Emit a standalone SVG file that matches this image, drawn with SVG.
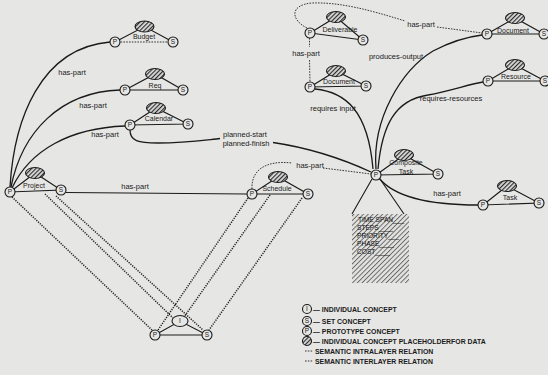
<svg xmlns="http://www.w3.org/2000/svg" width="548" height="375" viewBox="0 0 548 375">
<defs>
<pattern id="hatch" patternUnits="userSpaceOnUse" width="3" height="3" patternTransform="rotate(45)">
<rect width="3" height="3" fill="#dcdcdc"/>
<line x1="0.6" y1="0" x2="0.6" y2="3" stroke="#222" stroke-width="1.1"/>
</pattern>
<pattern id="hatch2" patternUnits="userSpaceOnUse" width="3.4" height="3.4" patternTransform="rotate(45)">
<rect width="3.4" height="3.4" fill="#e2e2e0"/>
<line x1="0.5" y1="0" x2="0.5" y2="3.4" stroke="#444" stroke-width="0.75"/>
</pattern>
<style>
.ln{stroke:#1a1a1a;stroke-width:1.1;fill:none}
.cv{stroke:#1a1a1a;stroke-width:1.3;fill:none}
.dt{stroke:#222;stroke-width:0.9;fill:none;stroke-dasharray:1.6 1.2}
.il{stroke:#222;stroke-width:1.5;fill:none;stroke-dasharray:1.2 1.2}
.c{fill:#e6e6e4;stroke:#1a1a1a;stroke-width:1.1}
.e{fill:url(#hatch);stroke:#1a1a1a;stroke-width:1.1}
.t{font-family:"Liberation Sans",Arial,sans-serif;font-size:7px;fill:#1a1a1a;text-anchor:middle}
.l{font-family:"Liberation Sans",Arial,sans-serif;font-size:7.5px;fill:#1a1a1a;text-anchor:middle}
.k{font-family:"Liberation Sans",Arial,sans-serif;font-size:6.5px;fill:#1a1a1a;text-anchor:middle}
.d{font-family:"Liberation Sans",Arial,sans-serif;font-size:6.6px;fill:#111}
.g{font-family:"Liberation Sans",Arial,sans-serif;font-size:6.9px;font-weight:bold;fill:#1a1a1a}
</style>
</defs>
<rect width="548" height="375" fill="#e6e6e4"/>

<g id="connectors">
<path class="cv" d="M10,187 C14,120 40,48 110,42"/>
<path class="cv" d="M11,187 C22,132 60,92 120,90"/>
<path class="cv" d="M12,188 C30,150 70,128 125,126"/>
<path class="ln" d="M66,192.5 L247,194"/>
<path class="cv" d="M130,130 C130,141 138,143 158,143 C185,143 205,140 220,138.5 M273,142.5 C310,148 345,160 371,172"/>
<path class="dt" d="M252,189 C251,170 266,160 292,163 M323,168 L371,174"/>
<path class="dt" d="M309.5,38 L309.5,47 M309.5,60 L310,82"/>
<path class="dt" d="M307,28 C291,20 289,5 312,3 C340,2 370,10 405,21 M437,27 L482,33"/>
<path class="cv" d="M376,169 C372,118 402,70 433,51 C452,41 466,37 482,35"/>
<path class="cv" d="M378,169 C382,125 395,100 428,95 C450,91 470,84 483,82"/>
<path class="cv" d="M315,89 C345,92 368,110 373,169"/>
<path class="cv" d="M379,178 C395,198 430,205 478,205"/>
<path class="ln" d="M372,179 L352,214 M380,179 L404,214"/>
<path class="il" d="M12,197 L152,330 M45,194 L173,318 M56,196 L203,330 M248,198 L158,330 M270,195 L184,317 M302,198 L209,330"/>
<text class="l" x="72" y="75">has-part</text>
<text class="l" x="93" y="108">has-part</text>
<text class="l" x="105" y="137">has-part</text>
<text class="l" x="135" y="189">has-part</text>
<text class="l" x="245" y="137">planned-start</text>
<text class="l" x="246" y="146">planned-finish</text>
<text class="l" x="310" y="168">has-part</text>
<text class="l" x="306" y="56">has-part</text>
<text class="l" x="421" y="27">has-part</text>
<text class="l" x="396" y="59">produces-output</text>
<text class="l" x="333" y="111">requires input</text>
<text class="l" x="451" y="101">requires-resources</text>
<text class="l" x="447" y="196">has-part</text>
</g>

<g id="budget">
<path class="ln" d="M115,42 L144.5,26.5 L173,42"/>
<line class="dt" x1="115" y1="42" x2="173" y2="42"/>
<ellipse class="e" cx="144.5" cy="26.5" rx="9.5" ry="5.5"/>
<circle class="c" cx="115" cy="42" r="5"/><text class="k" x="115" y="44.3">P</text>
<circle class="c" cx="173" cy="42" r="5"/><text class="k" x="173" y="44.3">S</text>
<text class="t" x="144" y="39">Budget</text>
</g>
<g id="req">
<path class="ln" d="M125,90 L155,74 L183,90 Z"/>
<ellipse class="e" cx="155" cy="74" rx="9.5" ry="5.5"/>
<circle class="c" cx="125" cy="90" r="5"/><text class="k" x="125" y="92.3">P</text>
<circle class="c" cx="183" cy="90" r="5"/><text class="k" x="183" y="92.3">S</text>
<text class="t" x="155" y="88">Req</text>
</g>
<g id="calendar">
<path class="ln" d="M130,125 L156,108 L188,124 Z"/>
<ellipse class="e" cx="156" cy="108" rx="9.5" ry="5.5"/>
<circle class="c" cx="130" cy="125" r="5"/><text class="k" x="130" y="127.3">P</text>
<circle class="c" cx="188" cy="124" r="5"/><text class="k" x="188" y="126.3">S</text>
<text class="t" x="159" y="121">Calendar</text>
</g>
<g id="project">
<path class="ln" d="M10,192 L35,173 L61,190 Z"/>
<ellipse class="e" cx="35" cy="173" rx="9.5" ry="5.5"/>
<circle class="c" cx="10" cy="192" r="5"/><text class="k" x="10" y="194.3">P</text>
<circle class="c" cx="61" cy="190" r="5"/><text class="k" x="61" y="192.3">S</text>
<text class="t" x="34" y="188">Project</text>
</g>
<g id="schedule">
<path class="ln" d="M252,194 L278,177 L308,194 Z"/>
<ellipse class="e" cx="278" cy="177" rx="9.5" ry="5.5"/>
<circle class="c" cx="252" cy="194" r="5"/><text class="k" x="252" y="196.3">P</text>
<circle class="c" cx="308" cy="194" r="5"/><text class="k" x="308" y="196.3">S</text>
<text class="t" x="277" y="191">Schedule</text>
</g>
<g id="deliverable">
<path class="ln" d="M310,33 L336,17 L363,40 Z"/>
<ellipse class="e" cx="336" cy="17" rx="9.5" ry="5.5"/>
<circle class="c" cx="310" cy="33" r="5"/><text class="k" x="310" y="35.3">P</text>
<circle class="c" cx="363" cy="40" r="5"/><text class="k" x="363" y="42.3">S</text>
<text class="t" x="340" y="32">Deliverable</text>
</g>
<g id="document-in">
<path class="ln" d="M310,87 L336,71 L366,86 Z"/>
<ellipse class="e" cx="336" cy="71" rx="9.5" ry="5.5"/>
<circle class="c" cx="310" cy="87" r="5"/><text class="k" x="310" y="89.3">P</text>
<circle class="c" cx="366" cy="86" r="5"/><text class="k" x="366" y="88.3">S</text>
<text class="t" x="339" y="84">Document</text>
</g>
<g id="document-out">
<path class="ln" d="M487,34 L515,18 L544,34 Z"/>
<ellipse class="e" cx="515" cy="18" rx="9.5" ry="5.5"/>
<circle class="c" cx="487" cy="34" r="5"/><text class="k" x="487" y="36.3">P</text>
<circle class="c" cx="544" cy="34" r="5"/><text class="k" x="544" y="36.3">S</text>
<text class="t" x="513" y="33">Document</text>
</g>
<g id="resource">
<path class="ln" d="M488,81 L515,65 L545,81 Z"/>
<ellipse class="e" cx="515" cy="65" rx="9.5" ry="5.5"/>
<circle class="c" cx="488" cy="81" r="5"/><text class="k" x="488" y="83.3">P</text>
<circle class="c" cx="545" cy="81" r="5"/><text class="k" x="545" y="83.3">S</text>
<text class="t" x="516" y="79">Resource</text>
</g>
<g id="composite-task">
<path class="ln" d="M376,175 L404,155 L438,174 Z"/>
<ellipse class="e" cx="404" cy="155" rx="9.5" ry="5.5"/>
<circle class="c" cx="376" cy="175" r="5"/><text class="k" x="376" y="177.3">P</text>
<circle class="c" cx="438" cy="174" r="5"/><text class="k" x="438" y="176.3">S</text>
<text class="t" x="406" y="165">Composite</text>
<text class="t" x="406" y="174">Task</text>
</g>
<g id="task">
<path class="ln" d="M483,205 L507,186 L539,203 Z"/>
<ellipse class="e" cx="507" cy="186" rx="9.5" ry="5.5"/>
<circle class="c" cx="483" cy="205" r="5"/><text class="k" x="483" y="207.3">P</text>
<circle class="c" cx="539" cy="203" r="5"/><text class="k" x="539" y="205.3">S</text>
<text class="t" x="510" y="200">Task</text>
</g>
<g id="individual">
<path class="ln" d="M155,335 L180,321 L207,335 Z"/>
<ellipse class="c" cx="180" cy="321" rx="8" ry="5.5"/>
<text class="k" x="180" y="323.3">I</text>
<circle class="c" cx="155" cy="335" r="5"/><text class="k" x="155" y="337.3">P</text>
<circle class="c" cx="207" cy="335" r="5"/><text class="k" x="207" y="337.3">S</text>
</g>
<g id="data-box">
<rect x="352" y="214" width="57" height="69" fill="url(#hatch2)"/>
<text class="d" x="358" y="222">TIME SPAN___</text>
<text class="d" x="357" y="230">STEPS____</text>
<text class="d" x="357" y="238">PRIORITY___</text>
<text class="d" x="357" y="246">PHASE____</text>
<text class="d" x="357" y="254">COST____</text>
</g>
<g id="legend">
<circle class="c" cx="307" cy="309" r="4.5"/><text class="k" x="307" y="311.3">I</text>
<text class="g" x="313" y="311.5">— INDIVIDUAL CONCEPT</text>
<circle class="c" cx="307" cy="321" r="4.5"/><text class="k" x="307" y="323.3">S</text>
<text class="g" x="313" y="323.5">— SET CONCEPT</text>
<circle class="c" cx="307" cy="331" r="4.5"/><text class="k" x="307" y="333.3">P</text>
<text class="g" x="313" y="333.5">— PROTOTYPE CONCEPT</text>
<circle class="e" cx="307" cy="341" r="4.5"/>
<text class="g" x="313" y="343.5">— INDIVIDUAL CONCEPT PLACEHOLDERFOR DATA</text>
<line class="dt" x1="305" y1="351" x2="313" y2="351"/>
<text class="g" x="315" y="353.5">SEMANTIC INTRALAYER RELATION</text>
<line class="dt" x1="305" y1="361" x2="313" y2="361"/>
<text class="g" x="315" y="363.5">SEMANTIC INTERLAYER RELATION</text>
</g>
</svg>
